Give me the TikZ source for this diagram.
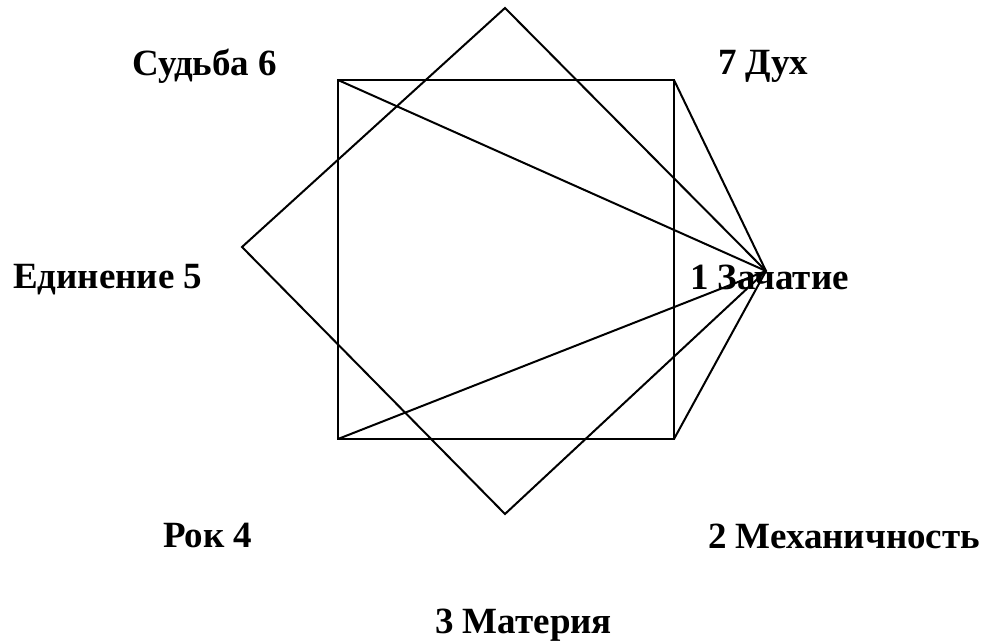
\documentclass[tikz,border=0pt]{standalone}
\usepackage{fontspec}
\setmainfont{Liberation Serif}
\begin{document}
\begin{tikzpicture}[x=1pt,y=-1pt,
  edge/.style={line width=2pt,line join=miter},
  lbl/.style={anchor=base west,inner sep=0pt,font=\fontsize{37}{42}\selectfont\bfseries}]
\useasboundingbox (0,0) rectangle (986,644);
\coordinate (S1) at (338,80);
\coordinate (S2) at (674,80);
\coordinate (S3) at (674,439);
\coordinate (S4) at (338,439);
\coordinate (D1) at (505,8);
\coordinate (D2) at (242,247);
\coordinate (D3) at (505,514);
\coordinate (A) at (766,271);
\draw[edge] (S1) -- (S2) -- (S3) -- (S4) -- cycle;
\draw[edge] (D1) -- (D2) -- (D3) -- (A) -- cycle;
\draw[edge] (A) -- (S1);
\draw[edge] (A) -- (S2);
\draw[edge] (A) -- (S3);
\draw[edge] (A) -- (S4);
\node[lbl] (l6) at (132,76) {Судьба 6};
\node[lbl] (l7) at (718,75) {7 Дух};
\node[lbl] (l5) at (13,289) {Единение 5};
\node[lbl] (l1) at (690,290) {1 Зачатие};
\node[lbl] (l4) at (163,547) {Рок 4};
\node[lbl] (l2) at (708,548) {2 Механичность};
\node[lbl] (l3) at (435,633) {3 Материя};
\end{tikzpicture}
\end{document}
